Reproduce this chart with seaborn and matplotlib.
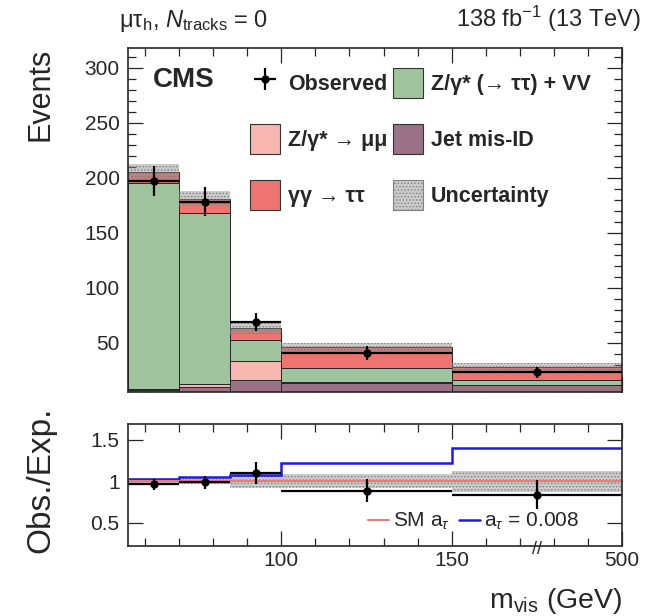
import numpy as np
import pandas as pd
import matplotlib
matplotlib.use("Agg")
import matplotlib.pyplot as plt
import matplotlib.transforms as mtransforms
from matplotlib.patches import Patch
import seaborn as sns

sns.set_style("ticks")
plt.rcParams["font.family"] = ["Liberation Sans", "DejaVu Sans"]
plt.rcParams["mathtext.fontset"] = "custom"
plt.rcParams["mathtext.rm"] = "Liberation Sans"
plt.rcParams["mathtext.it"] = "Liberation Sans:italic"
plt.rcParams["mathtext.bf"] = "Liberation Sans:bold"
plt.rcParams["hatch.linewidth"] = 0.6

# bins in m_vis (GeV); last bin 150-500 is drawn compressed
edges = [55, 70, 85, 100, 150, 500]
processes = ["γγ → ττ", "Z/γ* (→ ττ) + VV", "Z/γ* → μμ", "Jet mis-ID"]
gg_tautau = [10, 13, 10.5, 19, 11.5]
z_tautau_vv = [187, 156, 19.5, 12.7, 4.5]
z_mumu = [1, 2, 17, 0.5, 0.5]
jet_misid = [7, 10, 16, 13.5, 11]
bkg_unc = [7, 6.5, 5, 4, 3.5]
observed = [197, 178, 69, 40.5, 23]
observed_err = [14, 13.3, 8.3, 6.4, 4.8]
ratio_sm = [1.0, 1.0, 1.0, 1.0, 1.0]
ratio_at008 = [1.03, 1.045, 1.08, 1.215, 1.40]

colors = {"γγ → ττ": "#ef7470", "Z/γ* (→ ττ) + VV": "#9fc39c",
          "Z/γ* → μμ": "#f8b6b0", "Jet mis-ID": "#9b7186"}
unc_face = (0.55, 0.55, 0.55, 0.45)
unc_hatch = "#808080"


def fwd(x):
    x = np.asarray(x, dtype=float)
    return np.where(x <= 150, x, 150 + (x - 150) / 7.0)


def inv(y):
    y = np.asarray(y, dtype=float)
    return np.where(y <= 150, y, 150 + (y - 150) * 7.0)


edges_a = np.array(edges, dtype=float)
centers = inv((fwd(edges_a[:-1]) + fwd(edges_a[1:])) / 2)
xerr = [centers - edges_a[:-1], edges_a[1:] - centers]

comp = {"γγ → ττ": gg_tautau, "Z/γ* (→ ττ) + VV": z_tautau_vv,
        "Z/γ* → μμ": z_mumu, "Jet mis-ID": jet_misid}
df = pd.DataFrame({
    "mvis": np.tile(centers, len(processes)),
    "weight": np.concatenate([comp[p] for p in processes]),
    "process": np.repeat(processes, len(centers)),
})
total = np.sum([comp[p] for p in processes], axis=0)
unc = np.array(bkg_unc)
obs = np.array(observed)
obs_err = np.array(observed_err)

fig = plt.figure(figsize=(6.64, 6.16), dpi=100)
ax = fig.add_axes([0.1928, 0.3636, 0.744, 0.5585])
ax2 = fig.add_axes([0.1928, 0.1141, 0.744, 0.1976])

sns.histplot(data=df, x="mvis", weights="weight", hue="process",
             hue_order=processes, multiple="stack", bins=edges,
             palette=colors, alpha=1, edgecolor="#262626", linewidth=0.7,
             legend=False, ax=ax)
ax.stairs(total + unc, edges, baseline=total - unc, fill=True,
          facecolor=unc_face, hatch=".....", edgecolor=unc_hatch, linewidth=0)
obs_h = ax.errorbar(centers, obs, yerr=obs_err, xerr=xerr, fmt="o",
                    color="black", ms=5, lw=1.6, capsize=0)

ratio = obs / total
ratio_err = obs_err / total
rel = unc / total
ax2.stairs(1 + rel, edges, baseline=1 - rel, fill=True,
           facecolor=unc_face, hatch=".....", edgecolor=unc_hatch, linewidth=0)
sm_h, = ax2.plot([], [], color="#f07a78", lw=1.5)
at_h, = ax2.plot([], [], color="#1a1aee", lw=1.8)
ax2.stairs(ratio_at008, edges, baseline=None, color="#1a1aee", lw=1.8)
ax2.stairs(ratio_sm, edges, baseline=None, color="#f07a78", lw=1.5)
ax2.errorbar(centers, ratio, yerr=ratio_err, xerr=xerr, fmt="o",
             color="black", ms=5, lw=1.6, capsize=0)

for a in (ax, ax2):
    a.set_xscale("function", functions=(fwd, inv))
    a.set_xlim(55, 500)
    a.set_xticks([100, 150, 500])
    a.set_xticks([60, 70, 80, 90, 110, 120, 130, 140, 220, 290, 360, 430], minor=True)
    a.tick_params(which="both", direction="in", top=True, right=True,
                  labelsize=15, width=0.9)
    a.tick_params(which="major", length=10.5)
    a.tick_params(which="minor", length=5.5)
    for s in a.spines.values():
        s.set_linewidth(1.2)
    a.set_xlabel("")
    a.set_ylabel("")

ax.set_ylim(5, 318)
ax.set_yticks([50, 100, 150, 200, 250, 300])
ax.set_yticks(np.arange(10, 318, 10), minor=True)
ax.tick_params(axis="x", labelbottom=False)
ax.tick_params(axis="y", pad=6)

ax2.set_ylim(0.22, 1.69)
ax2.set_yticks([0.5, 1, 1.5])
ax2.set_yticklabels(["0.5", "1", "1.5"])
ax2.tick_params(axis="y", which="minor", left=False, right=False)
ax2.tick_params(axis="y", pad=6)
ax2.tick_params(axis="x", pad=4)

ax.set_ylabel("Events", fontsize=22, loc="top")
ax.yaxis.set_label_coords(-0.146, 1.0)
ax2.set_ylabel("Obs./Exp.", fontsize=24)
ax2.yaxis.set_label_coords(-0.146, 0.545)
ax2.set_xlabel("m$_{\\mathrm{vis}}$ (GeV)", fontsize=20.5, loc="right")
ax2.xaxis.set_label_coords(1.0, -0.33)

ax.text(0.05, 0.887, "CMS", transform=ax.transAxes, fontsize=20,
        fontweight="bold", va="baseline", ha="left")
ax.text(-0.018, 1.061, "μτ$_{\\mathrm{h}}$, $N_{\\mathrm{tracks}}$ = 0",
        transform=ax.transAxes, fontsize=17, va="baseline", ha="left")
ax.text(1.038, 1.061, "138 fb$^{-1}$ (13 TeV)", transform=ax.transAxes,
        fontsize=17, va="baseline", ha="right")

handles = [obs_h,
           Patch(facecolor=colors["Z/γ* → μμ"], edgecolor="#333333", lw=0.8),
           Patch(facecolor=colors["γγ → ττ"], edgecolor="#333333", lw=0.8),
           Patch(facecolor=colors["Z/γ* (→ ττ) + VV"], edgecolor="#333333", lw=0.8),
           Patch(facecolor=colors["Jet mis-ID"], edgecolor="#333333", lw=0.8),
           Patch(facecolor=unc_face, hatch=".....", edgecolor=unc_hatch, lw=0.8)]
labels = ["Observed", "Z/γ* → μμ", "γγ → ττ",
          "Z/γ* (→ ττ) + VV", "Jet mis-ID", "Uncertainty"]
ax.legend(handles, labels, ncol=2, loc="upper left",
          bbox_to_anchor=(0.247, 0.942), frameon=False, borderpad=0,
          borderaxespad=0, handlelength=1.4, handleheight=1.77,
          handletextpad=0.37, labelspacing=1.21, columnspacing=0.25,
          prop={"weight": "bold", "size": 15.5})

ax2.legend([sm_h, at_h], ["SM a$_{\\tau}$", "a$_{\\tau}$ = 0.008"], ncol=2,
           loc="center left", bbox_to_anchor=(0.486, 0.197), frameon=False,
           borderpad=0, borderaxespad=0, handlelength=1.0, handletextpad=0.2,
           columnspacing=0.43, fontsize=15)

brk = mtransforms.blended_transform_factory(ax2.transData, ax2.transAxes)
ax2.text(325, -0.03, "//", transform=brk, ha="center", va="center",
         fontsize=13, clip_on=False)

fig.savefig("out.png", dpi=100)
